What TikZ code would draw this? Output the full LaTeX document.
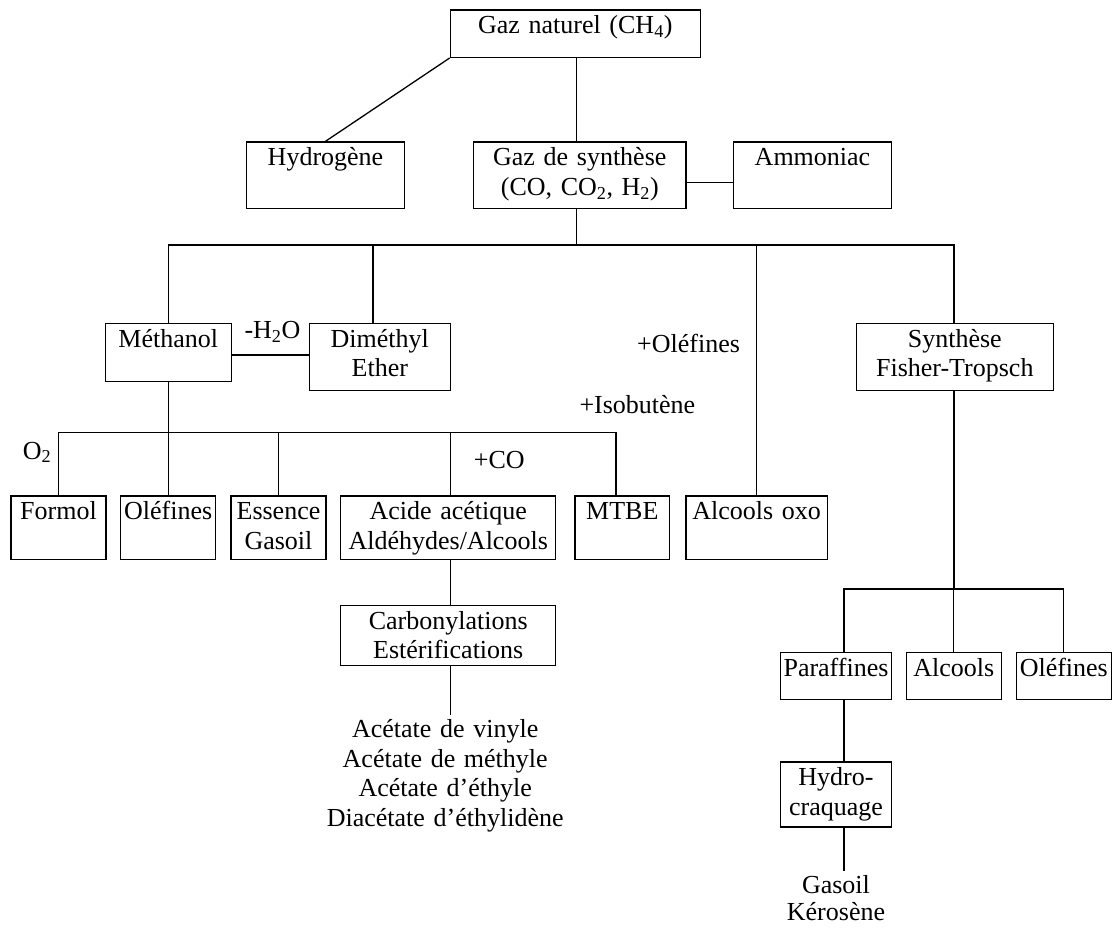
\documentclass[tikz,border=0pt]{standalone}
\usepackage{fontspec}
\setmainfont{Liberation Serif}
\usepackage{tikz}
\usetikzlibrary{positioning}

\begin{document}
\begin{tikzpicture} [
    x=1pt, y=-1pt,                        % One unit per pixel, y grows downwards
    font=\fontsize{26}{29.5}\selectfont,  % Times-like text everywhere
    ]
% ------------------------------------------------- 
\tikzset{
  base/.style={draw, line width=1.3pt, inner sep=0pt, anchor=north, align=center, text height=24pt},
  rect/.style 2 args={base, rectangle, text width=#1, text depth=#2},
  prod/.style={inner sep=0pt, anchor=north, align=center, text width=#1, text height=23pt},
  lbl/.style={inner sep=0pt, anchor=base west},
  line/.style={draw, line width=1.3pt},
}
    \useasboundingbox (0,0) rectangle (1116,927);

    % Gas and first products
    \node [rect={250pt}{23.4pt}] (gn) at (575.3,9.3) {Gaz naturel (CH\textsubscript{4})};
    \node [rect={157.6pt}{42.4pt}] (hyd) at (325.5,141.3) {Hydrogène};
    \node [rect={212.3pt}{42.4pt}] (gds) at (579.8,141.3) {Gaz de synthèse\\(CO, CO\textsubscript{2}, H\textsubscript{2})};
    \node [rect={157.6pt}{42.4pt}] (amm) at (812.5,141.3) {Ammoniac};

    \node [rect={126pt}{34pt}] (meth) at (168.3,322.7) {Méthanol};
    \node [rect={141pt}{43.3pt}] (dme) at (379.8,322.7) {Diméthyl\\Ether};
    \node [rect={197pt}{43.3pt}] (ft) at (954.8,322.7) {Synthèse\\Fisher-Tropsch};

    % Methanol branch
    \node [rect={95pt}{39.7pt}] (formol) at (58.5,495.3) {Formol};
    \node [rect={95pt}{39.7pt}] (olef) at (168.2,495.3) {Oléfines};
    \node [rect={95pt}{39.7pt}] (ess) at (278.5,495.3) {Essence\\Gasoil};
    \node [rect={215pt}{39.7pt}] (acide) at (448.2,495.3) {Acide acétique\\Aldéhydes/Alcools};
    \node [rect={94.7pt}{39.7pt}] (mtbe) at (622.3,495.3) {MTBE};
    \node [rect={141.3pt}{39.7pt}] (oxo) at (756.7,495.3) {Alcools oxo};

    \node [rect={215pt}{36.3pt}] (carb) at (448.2,604.7) {Carbonylations\\Estérifications};
    \node [prod=260pt] (acet) at (445.2,714.7) {Acétate de vinyle\\Acétate de méthyle\\Acétate d’éthyle\\Diacétate d’éthylidène};

    % Fisher-Tropsch branch
    \node [rect={110.6pt}{23pt}] (par) at (836,651.7) {Paraffines};
    \node [rect={95pt}{23pt}] (alc) at (953.8,651.7) {Alcools};
    \node [rect={95pt}{23pt}] (olef2) at (1063.8,651.7) {Oléfines};
    \node [rect={110.6pt}{41pt}] (hcr) at (836,761.3) {Hydro-\\craquage};
    \node [prod=130pt, text height=22pt, font=\fontsize{26}{27.5}\selectfont] (gk) at (836,871) {Gasoil\\Kérosène};

    % Reagents
    \node [lbl] (h2o) at (244.3,338.3) {-H\textsubscript{2}O};
    \node [lbl] (o2) at (22.7,459) {O\textsubscript{2}};
    \node [lbl] (co) at (473.7,468.3) {+CO};
    \node [lbl] (olefadd) at (637,352.3) {+Oléfines};
    \node [lbl] (isob) at (579.3,413.3) {+Isobutène};

    \coordinate (j1) at (576.7,245);
    \coordinate (j2) at (168.3,432.7);
    \coordinate (j3) at (954,589);

    \path [line] (gn.south west) -- (hyd.north);
    \path [line] (j1 |- gn.south) -- (j1 |- gds.north);
    \path [line] ([yshift=-7.5pt]gds.east) -- ([yshift=-7.5pt]gds.east -| amm.west);
    \path [line] (j1 |- gds.south) -- (j1);

    \path [line] (meth.north) |- (j3 |- j1) -- (j3 |- ft.north);
    \path [line] ([xshift=-6.8pt]dme.north |- j1) -- ([xshift=-6.8pt]dme.north);
    \path [line] (oxo.north |- j1) -- (oxo.north);
    \path [line] ([yshift=-2.6pt]meth.east) -- ([yshift=-2.6pt]meth.east -| dme.west);

    \path [line] (meth.south) -- (j2);
    \path [line] (formol.north) |- ([xshift=-6.3pt]mtbe.north |- j2) -- ([xshift=-6.3pt]mtbe.north);
    \path [line] (olef.north |- j2) -- (olef.north);
    \path [line] (ess.north |- j2) -- (ess.north);
    \path [line] ([xshift=2pt]acide.north |- j2) -- ([xshift=2pt]acide.north);
    \path [line] ([xshift=2pt]acide.south) -- ([xshift=2pt]carb.north);
    \path [line] ([xshift=2pt]carb.south) -- ([xshift=2pt]carb.south |- acet.north);

    \path [line] (j3 |- ft.south) -- (j3);
    \path [line] ([xshift=8pt]par.north) |- (olef2.north |- j3) -- (olef2.north);
    \path [line] (alc.north |- j3) -- (alc.north);
    \path [line] ([xshift=8pt]par.south) -- ([xshift=8pt]hcr.north);
    \path [line] ([xshift=8pt]hcr.south) -- ([xshift=8pt]hcr.south |- gk.north);
    
\end{tikzpicture}
\end{document}
